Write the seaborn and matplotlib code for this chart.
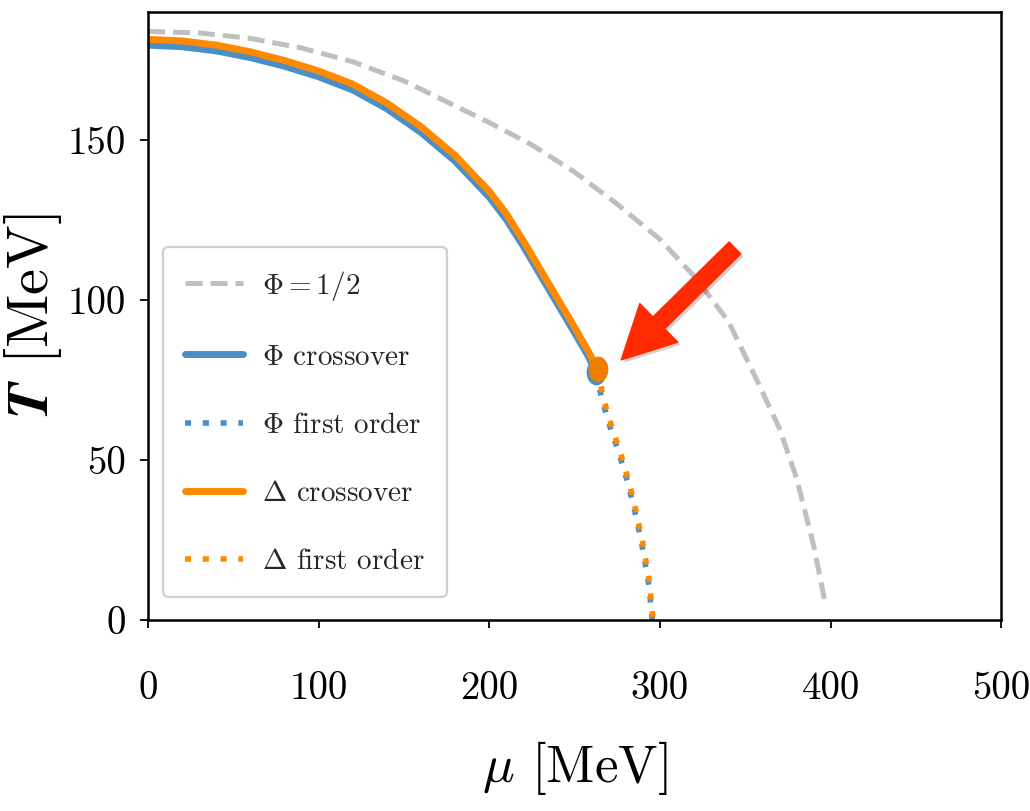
import numpy as np
import matplotlib
matplotlib.use("Agg")
import matplotlib.pyplot as plt
import matplotlib.patheffects as pe
from matplotlib.path import Path
import seaborn as sns

# ---------------- data ----------------
mu_half = [0, 30, 60, 90, 120, 150, 175, 200, 225, 250, 275, 300, 320, 340, 355, 370, 380, 390, 397]
T_half = [184, 183.5, 181.8, 178.8, 174.5, 168.5, 162, 155.5, 148.5, 140, 130, 119, 107.5, 93.5, 77,
          60, 44.5, 23.5, 5]

mu_phi_cross = [0, 20, 40, 60, 80, 100, 120, 140, 160, 180, 200, 210, 220, 230, 240, 250, 258, 262.5]
T_phi_cross = [179.7, 179.2, 177.9, 175.8, 173.1, 169.8, 165.7, 159.8, 152.4, 143.4, 132.2, 125.2,
               116.8, 107.8, 98.8, 89.8, 82.5, 77.5]

mu_phi_first = [262.5, 266.2, 271.3, 276.4, 281.4, 285.5, 289.5, 293.5, 295.5]
T_phi_first = [77.5, 68.5, 59.5, 51.5, 42.5, 33.5, 23.5, 11, 0]

mu_delta_cross = [0, 20, 40, 60, 80, 100, 120, 140, 160, 180, 200, 210, 220, 230, 240, 250, 258, 263.5]
T_delta_cross = [181.5, 181, 179.7, 177.6, 174.9, 171.6, 167.5, 161.6, 154.2, 145.2, 134, 127,
                 118.5, 109.5, 100.5, 91.5, 84, 78.5]

mu_delta_first = [263.5, 267, 272, 277, 282, 286, 290, 294, 296]
T_delta_first = [78.5, 69, 60, 52, 43, 34, 24, 11.5, 0]

cp_phi = (262.5, 77.5)
cp_delta = (263.5, 78.5)

arrow_tail = (344, 116.3)
arrow_tip = (277.3, 81.3)

x_ticks = [0, 100, 200, 300, 400, 500]
y_ticks = [0, 50, 100, 150]

labels = [r"$\Phi = 1/2$", r"$\Phi$ crossover", r"$\Phi$ first order",
          r"$\Delta$ crossover", r"$\Delta$ first order"]

# ---------------- style ----------------
BLUE = "#4a8fc7"
ORANGE = "#ff8a00"
ORANGE_DOT = "#ec7f00"
GRAY = "#bfbfbf"
RED = "#ff2a00"

sns.set_theme(style="white")
plt.rcParams.update({
    "font.family": "serif",
    "font.serif": ["cmr10", "DejaVu Serif"],
    "mathtext.fontset": "cm",
    "axes.formatter.use_mathtext": True,
    "axes.unicode_minus": False,
})

fig, ax = plt.subplots(figsize=(10.3, 8.11), dpi=100)
fig.subplots_adjust(left=0.1437, right=0.972, bottom=0.2355, top=0.985)

dash = (0, (3.4, 1.6))
dot = (0, (1.1, 2.1))

sns.lineplot(x=mu_half, y=T_half, ax=ax, color=GRAY, lw=3.6, linestyle=dash,
             estimator=None, sort=False, label=labels[0])
sns.lineplot(x=mu_phi_cross, y=T_phi_cross, ax=ax, color=BLUE, lw=5,
             estimator=None, sort=False, label=labels[1])
sns.lineplot(x=mu_phi_first, y=T_phi_first, ax=ax, color=BLUE, lw=4, linestyle=dot,
             estimator=None, sort=False, label=labels[2])
sns.lineplot(x=mu_delta_cross, y=T_delta_cross, ax=ax, color=ORANGE, lw=5,
             estimator=None, sort=False, label=labels[3])
sns.lineplot(x=mu_delta_first, y=T_delta_first, ax=ax, color=ORANGE, lw=4, linestyle=dot,
             estimator=None, sort=False, label=labels[4])

# critical-point markers (slightly elongated dots)
theta = np.linspace(0, 2 * np.pi, 64)
ell = Path(np.column_stack([np.cos(theta), 1.3 * np.sin(theta)]))
sns.lineplot(x=[cp_phi[0]], y=[cp_phi[1]], ax=ax, color=BLUE, marker=ell,
             markersize=18.5, markeredgewidth=0, estimator=None, legend=False)
sns.lineplot(x=[cp_delta[0]], y=[cp_delta[1]], ax=ax, color=ORANGE_DOT, marker=ell,
             markersize=18.5, markeredgewidth=0, estimator=None, legend=False)

# red arrow with soft shadow
ax.annotate("", xy=arrow_tip, xytext=arrow_tail,
            arrowprops=dict(arrowstyle="simple,head_length=1.9,head_width=1.95,tail_width=0.6",
                            mutation_scale=20, color=RED, shrinkA=0, shrinkB=0,
                            path_effects=[pe.SimplePatchShadow(offset=(2, -2), alpha=0.18,
                                                               shadow_rgbFace="black"),
                                          pe.Normal()]))

ax.set_xlim(0, 500)
ax.set_ylim(0, 190)
ax.set_xticks(x_ticks)
ax.set_yticks(y_ticks)
ax.set_xticklabels([str(v) for v in x_ticks])
ax.set_yticklabels([str(v) for v in y_ticks])

for s in ax.spines.values():
    s.set_visible(True)
    s.set_color("black")
    s.set_linewidth(1.8)

ax.tick_params(axis="both", which="major", direction="out", length=6, width=1.3,
               color="black", left=True, bottom=True, top=False, right=False,
               labelsize=28, labelcolor="black")
ax.tick_params(axis="x", pad=31)
ax.tick_params(axis="y", pad=10)

ax.set_xlabel(r"$\mu$ [MeV]", fontsize=38, color="black")
ax.set_ylabel(r"$\mathbfit{T}$ [MeV]", fontsize=42, color="black")
ax.xaxis.set_label_coords(0.5, -0.195)
ax.yaxis.set_label_coords(-0.098, 0.5)

handles, _ = ax.get_legend_handles_labels()
leg = ax.legend(handles=handles[:5], labels=labels, loc="lower left",
                bbox_to_anchor=(0.0176, 0.038), borderaxespad=0, fontsize=21,
                handlelength=2.0, handletextpad=0.65, labelspacing=1.43,
                borderpad=0.75, frameon=True, fancybox=True, framealpha=1)
leg.get_frame().set_edgecolor("#d0d0d0")
leg.get_frame().set_linewidth(1.6)

fig.savefig("out.png", dpi=100)
